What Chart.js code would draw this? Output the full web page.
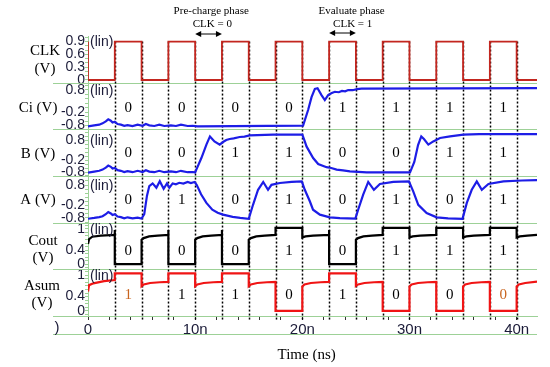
<!DOCTYPE html>
<html>
<head>
<meta charset="utf-8">
<script src="https://cdn.jsdelivr.net/npm/chart.js@4.4.1/dist/chart.umd.min.js"></script>
<style>
  html, body { margin: 0; padding: 0; background: #fff; }
</style>
</head>
<body>
<canvas id="wave" width="550" height="367"></canvas>
<script>
// time axis (ns)
const timeTicks = [0, 2, 4, 6, 8, 10, 12, 14, 16, 18, 20, 22, 24, 26, 28, 30, 32, 34, 36, 38, 40];
const timeLabels = { 0: '0', 10: '10n', 20: '20n', 30: '30n', 40: '40n' };
const clkEdges = [2.5, 5, 7.5, 10, 12.5, 15, 17.5, 20, 22.5, 25, 27.5, 30, 32.5, 35, 37.5, 40];

// evaluate windows (CLK = 1) and the logic value printed in each
const evalMid = [3.75, 8.75, 13.75, 18.75, 23.75, 28.75, 33.75, 38.75];
const ciBits = [0, 0, 0, 0, 1, 1, 1, 1];
const bBits = [0, 0, 1, 1, 0, 0, 1, 1];
const aBits = [0, 1, 0, 1, 0, 1, 0, 1];
const coutBits = [0, 0, 0, 1, 0, 1, 1, 1];
const asumBits = [1, 1, 1, 0, 1, 0, 0, 0];

// y tick labels per panel
const clkTicks = [0.9, 0.6, 0.3, 0];
const ciTicks = [0.8, -0.2, -0.8];
const bTicks = [0.8, -0.2, -0.8];
const aTicks = [0.8, -0.2, -0.8];
const coutTicks = [1, 0.4, 0];
const asumTicks = [1, 0.4, 0];

// waveforms [t (ns), V]
const clkWave = [[0,0.9],[0,0],[2.5,0],[2.5,0.9],[5,0.9],[5,0],[7.5,0],[7.5,0.9],[10,0.9],[10,0],
  [12.5,0],[12.5,0.9],[15,0.9],[15,0],[17.5,0],[17.5,0.9],[20,0.9],[20,0],[22.5,0],[22.5,0.9],
  [25,0.9],[25,0],[27.5,0],[27.5,0.9],[30,0.9],[30,0],[32.5,0],[32.5,0.9],[35,0.9],[35,0],
  [37.5,0],[37.5,0.9],[40,0.9],[40,0],[41.9,0]];

const ciWave = [[0,-0.84],[0.58,-0.79],[1.05,-0.76],[1.36,-0.70],[1.66,-0.61],[1.89,-0.52],[2.13,-0.58],
  [2.29,-0.66],[2.5,-0.63],[2.76,-0.73],[3.07,-0.76],[3.38,-0.81],[3.69,-0.78],[4.16,-0.82],[4.63,-0.76],
  [5.09,-0.81],[5.4,-0.73],[5.72,-0.79],[6.19,-0.82],[6.65,-0.76],[7.12,-0.82],[7.74,-0.79],[8.21,-0.82],
  [8.67,-0.76],[9.3,-0.82],[9.77,-0.81],[10.23,-0.84],[20.07,-0.8],[20.54,-0.1],[20.86,0.48],[21.17,0.85],
  [21.42,0.88],[21.79,0.57],[22.1,0.35],[22.41,0.57],[22.75,0.66],[23.04,0.72],[23.4,0.70],[23.7,0.76],
  [24.0,0.74],[24.28,0.8],[24.7,0.79],[25.1,0.84],[25.53,0.86],[41.9,0.88]];

const bWave = [[0,-0.83],[0.58,-0.78],[1.05,-0.74],[1.36,-0.68],[1.66,-0.58],[1.89,-0.48],[2.13,-0.54],
  [2.29,-0.63],[2.5,-0.6],[2.76,-0.71],[3.07,-0.74],[3.38,-0.8],[3.69,-0.76],[4.16,-0.81],[4.63,-0.74],
  [5.09,-0.8],[5.4,-0.71],[5.72,-0.78],[6.19,-0.81],[6.65,-0.74],[7.12,-0.81],[7.74,-0.77],[8.21,-0.81],
  [8.67,-0.74],[9.3,-0.81],[9.77,-0.8],[10.0,-0.82],[10.11,-0.68],[10.58,-0.1],[11.05,0.57],[11.38,0.98],
  [11.8,0.73],[12.29,0.57],[12.6,0.7],[12.9,0.8],[13.22,0.85],[13.6,0.88],[14.16,0.95],[14.6,0.97],
  [15.09,1.03],[17.27,1.07],[20.0,1.07],[20.23,0.73],[20.39,0.48],[21.01,-0.1],[21.48,-0.4],[22.26,-0.56],
  [22.7,-0.6],[23.2,-0.68],[23.8,-0.72],[24.44,-0.77],[26.0,-0.82],[30.05,-0.82],[30.45,-0.3],[30.8,0.55],
  [31.1,0.98],[31.35,0.85],[31.76,0.57],[32.22,0.73],[32.85,0.9],[33.79,0.98],[35.03,1.07],[36.5,1.1],[41.9,1.1]];

const aWave = [[0,-0.84],[0.58,-0.8],[1.05,-0.76],[1.36,-0.72],[1.66,-0.62],[1.89,-0.51],[2.13,-0.58],
  [2.29,-0.66],[2.5,-0.62],[2.76,-0.73],[3.07,-0.76],[3.38,-0.82],[3.69,-0.77],[4.16,-0.82],[4.63,-0.79],
  [5.0,-0.83],[5.25,-0.62],[5.5,0.27],[5.72,0.75],[6.03,0.88],[6.38,0.67],[6.7,0.99],[7.06,0.62],[7.37,0.88],
  [7.59,0.67],[7.9,0.88],[8.2,0.84],[8.52,0.91],[8.9,0.87],[9.3,0.95],[9.6,0.9],[9.95,0.95],[10.15,0.8],
  [10.55,0.35],[11.05,-0.07],[11.6,-0.4],[12.1,-0.55],[12.6,-0.64],[13.5,-0.75],[14.2,-0.8],[15.0,-0.84],
  [15.4,-0.16],[15.87,0.57],[16.35,0.95],[16.8,0.57],[17.12,0.81],[17.9,0.9],[19.0,0.95],[19.95,0.98],
  [20.23,0.57],[20.7,0.01],[21.0,-0.4],[21.64,-0.64],[22.57,-0.77],[23.5,-0.81],[24.95,-0.83],[25.21,-0.4],
  [25.68,0.33],[26.15,0.95],[26.68,0.57],[27.24,0.85],[28.49,0.95],[29.95,0.98],[30.35,0.49],[30.82,-0.16],
  [31.6,-0.56],[32.54,-0.77],[33.6,-0.82],[34.95,-0.84],[35.35,-0.07],[35.81,0.57],[36.28,0.98],[36.75,0.57],
  [37.37,0.85],[38.77,0.98],[40.5,1.02],[41.9,1.04]];

const coutWave = [[0,0.57],[0.1,0.71],[0.4,0.78],[1.2,0.81],[2.5,0.83],[2.5,0.97],[2.5,0],[5,0],
  [5,0.69],[5.2,0.74],[5.7,0.79],[6.5,0.81],[7.5,0.83],[7.5,0.97],[7.5,0],[10,0],
  [10,0.69],[10.2,0.74],[10.7,0.79],[11.5,0.81],[12.5,0.83],[12.5,0.97],[12.5,0],[15,0],
  [15,0.69],[15.2,0.74],[15.7,0.79],[16.5,0.81],[17.5,0.83],[17.5,1.03],[20,1.03],
  [20,0.76],[20.3,0.79],[21,0.81],[22.5,0.83],[22.5,0.97],[22.5,0],[25,0],
  [25,0.69],[25.2,0.74],[25.7,0.79],[26.5,0.81],[27.5,0.83],[27.5,1.03],[30,1.03],
  [30,0.76],[30.3,0.79],[31,0.81],[32.5,0.83],[32.5,1.03],[35,1.03],
  [35,0.76],[35.3,0.79],[36,0.81],[37.5,0.83],[37.5,1.03],[40,1.03],
  [40,0.76],[40.3,0.79],[41,0.81],[41.9,0.83]];

const asumWave = [[0,0.54],[0.1,0.72],[0.5,0.77],[1.5,0.83],[2.5,0.86],[2.5,1.05],[5,1.05],
  [5,0.69],[5.2,0.74],[5.8,0.78],[6.7,0.8],[7.5,0.81],[7.5,1.05],[10,1.05],
  [10,0.69],[10.2,0.74],[10.8,0.78],[11.7,0.8],[12.5,0.81],[12.5,1.05],[15,1.05],
  [15,0.69],[15.2,0.74],[15.8,0.78],[16.7,0.8],[17.5,0.81],[17.5,0],[20,0],
  [20,0.68],[20.2,0.74],[20.8,0.78],[21.7,0.8],[22.5,0.81],[22.5,1.05],[25,1.05],
  [25,0.7],[25.2,0.74],[25.8,0.78],[26.7,0.8],[27.5,0.81],[27.5,0],[30,0],
  [30,0.68],[30.2,0.74],[30.8,0.78],[31.7,0.8],[32.5,0.81],[32.5,0],[35,0],
  [35,0.68],[35.2,0.74],[35.8,0.78],[36.7,0.8],[37.5,0.81],[37.5,0],[40,0],
  [40,0.68],[40.2,0.74],[40.8,0.78],[41.9,0.82]];

const GREEN = '#9dd197';
const TICK = '#1b1b38';
const SERIF = "'Liberation Serif', 'Times New Roman', serif";
const SANS = "'Liberation Sans', Arial, sans-serif";

// panels, top to bottom
const panels = [
  { id: 'yClk', min: -0.063, max: 1.03, minor: 0.1, ticks: clkTicks, wave: clkWave, color: '#c3261f',
    name: ['CLK', '(V)'], nameX: 45, nameDy: [-8, 10], bits: null },
  { id: 'yCi', min: -0.97, max: 1.13, minor: 0.2, ticks: ciTicks, wave: ciWave, color: '#1d1de6',
    name: ['Ci (V)'], nameX: 38, nameDy: [2], bits: ciBits, bitY: -0.01 },
  { id: 'yB', min: -1.0, max: 1.335, minor: 0.2, ticks: bTicks, wave: bWave, color: '#1d1de6',
    name: ['B (V)'], nameX: 38, nameDy: [1], bits: bBits, bitY: 0.15 },
  { id: 'yA', min: -1.03, max: 1.24, minor: 0.2, ticks: aTicks, wave: aWave, color: '#1d1de6',
    name: ['A (V)'], nameX: 38, nameDy: [1], bits: aBits, bitY: 0.07 },
  { id: 'yCout', min: -0.151, max: 1.18, minor: 0.1, ticks: coutTicks, wave: coutWave, color: '#000000',
    name: ['Cout', '(V)'], nameX: 43, nameDy: [-5, 12], bits: coutBits, bitY: 0.37 },
  { id: 'yAsum', min: -0.14, max: 1.16, minor: 0.1, ticks: asumTicks, wave: asumWave, color: '#f01414',
    name: ['Asum', '(V)'], nameX: 42, nameDy: [-7, 10], bits: asumBits, bitY: 0.44, orange: [0, 7] }
];

function makeY(p, weight) {
  return {
    type: 'linear', position: 'left', stack: 'panels', stackWeight: 1, weight: weight,
    min: p.min, max: p.max,
    afterBuildTicks(s) {
      const vals = new Set();
      for (let v = Math.ceil(p.min / p.minor) * p.minor; v <= p.max + 1e-9; v += p.minor) vals.add(+v.toFixed(3));
      p.ticks.forEach(v => vals.add(v));
      s.ticks = [...vals].sort((a, b) => a - b).map(v => ({ value: v }));
    },
    afterFit(s) { s.width = 88; },
    ticks: {
      autoSkip: false, padding: 0, color: TICK, font: { family: SANS, size: 14 },
      callback(v) { return p.ticks.some(m => Math.abs(m - v) < 1e-6) ? String(v) : ''; }
    },
    grid: { drawOnChartArea: false, color: GREEN, tickLength: 3 },
    border: { color: GREEN }
  };
}

const scales = {
  x: {
    type: 'linear', min: 0, max: 41.9,
    afterBuildTicks(s) { s.ticks = timeTicks.map(v => ({ value: v })); },
    afterFit(s) { s.height = 21; },
    ticks: {
      autoSkip: false, maxRotation: 0, padding: 1, color: TICK, font: { family: SANS, size: 15 },
      callback(v) { return timeLabels[v] !== undefined ? timeLabels[v] : ''; }
    },
    grid: { drawOnChartArea: false, color: '#333', tickLength: 4 },
    border: { color: GREEN }
  }
};
panels.slice().reverse().forEach((p, i) => { scales[p.id] = makeY(p, i + 1); });

function text(ctx, str, x, y, font, color, align) {
  ctx.font = font;
  ctx.fillStyle = color;
  ctx.textAlign = align || 'center';
  ctx.textBaseline = 'middle';
  ctx.fillText(str, x, y);
}

function arrow(ctx, x1, x2, y) {
  ctx.strokeStyle = '#000';
  ctx.fillStyle = '#000';
  ctx.lineWidth = 1;
  ctx.beginPath(); ctx.moveTo(x1 + 3, y); ctx.lineTo(x2 - 3, y); ctx.stroke();
  ctx.beginPath(); ctx.moveTo(x1, y); ctx.lineTo(x1 + 6, y - 3); ctx.lineTo(x1 + 6, y + 3); ctx.closePath(); ctx.fill();
  ctx.beginPath(); ctx.moveTo(x2, y); ctx.lineTo(x2 - 6, y - 3); ctx.lineTo(x2 - 6, y + 3); ctx.closePath(); ctx.fill();
}

const decor = {
  id: 'decor',
  beforeDatasetsDraw(chart) {
    const { ctx, chartArea: ca, scales: sc } = chart;
    ctx.save();
    ctx.strokeStyle = GREEN;
    ctx.lineWidth = 1;
    const seps = panels.map(p => sc[p.id].bottom);
    seps.push(ca.bottom + 18);
    seps.forEach(y => {
      const yy = Math.round(y) + 0.5;
      ctx.beginPath(); ctx.moveTo(53, yy); ctx.lineTo(ca.right, yy); ctx.stroke();
    });
    // clock edge markers
    ctx.strokeStyle = '#000';
    ctx.lineWidth = 1.5;
    ctx.setLineDash([2, 2]);
    const yTop = sc.yClk.getPixelForValue(0.9);
    clkEdges.forEach(t => {
      const px = Math.round(sc.x.getPixelForValue(t)) + 0.5;
      ctx.beginPath(); ctx.moveTo(px, yTop); ctx.lineTo(px, ca.bottom + 4); ctx.stroke();
    });
    ctx.restore();
  },
  afterDatasetsDraw(chart) {
    const { ctx, chartArea: ca, scales: sc } = chart;
    const x = sc.x;
    ctx.save();
    panels.forEach(p => {
      const s = sc[p.id];
      const mid = (s.top + s.bottom) / 2;
      p.name.forEach((line, i) => text(ctx, line, p.nameX, mid + p.nameDy[i], '15px ' + SERIF, '#000'));
      text(ctx, '(lin)', ca.left + 2, s.getPixelForValue(p.ticks[0]) + 1, '14px ' + SANS, TICK, 'left');
      if (p.bits) {
        p.bits.forEach((b, i) => {
          const col = p.orange && p.orange.includes(i) ? '#c8641e' : '#000';
          text(ctx, String(b), x.getPixelForValue(evalMid[i]), s.getPixelForValue(p.bitY), '15px ' + SERIF, col);
        });
      }
    });
    // phase annotations
    const yA = 34;
    arrow(ctx, x.getPixelForValue(10), x.getPixelForValue(12.5), yA);
    arrow(ctx, x.getPixelForValue(22.5), x.getPixelForValue(25), yA - 1);
    text(ctx, 'Pre-charge phase', x.getPixelForValue(11.5), 11, '11px ' + SERIF, '#000');
    text(ctx, 'CLK = 0', x.getPixelForValue(11.6), 24, '11px ' + SERIF, '#000');
    text(ctx, 'Evaluate phase', x.getPixelForValue(24.6), 11, '11px ' + SERIF, '#000');
    text(ctx, 'CLK = 1', x.getPixelForValue(24.7), 24, '11px ' + SERIF, '#000');
    // axis title and clipped label fragment
    text(ctx, 'Time (ns)', x.getPixelForValue(20.4), ca.bottom + 39, '15px ' + SERIF, '#000');
    text(ctx, ')', 57, ca.bottom + 12, '15px ' + SANS, TICK);
    ctx.restore();
  }
};

new Chart(document.getElementById('wave'), {
  type: 'line',
  data: {
    datasets: panels.map(p => ({
      label: p.name.join(' '),
      data: p.wave.map(pt => ({ x: pt[0], y: pt[1] })),
      yAxisID: p.id,
      borderColor: p.color,
      borderWidth: p.id === 'yClk' ? 1.8 : 2.2,
      pointRadius: 0,
      tension: 0,
      fill: false
    }))
  },
  options: {
    responsive: false,
    animation: false,
    layout: { padding: { top: 36, right: 13, bottom: 30, left: 0 } },
    plugins: { legend: { display: false }, tooltip: { enabled: false } },
    scales: scales
  },
  plugins: [decor]
});
</script>
</body>
</html>
